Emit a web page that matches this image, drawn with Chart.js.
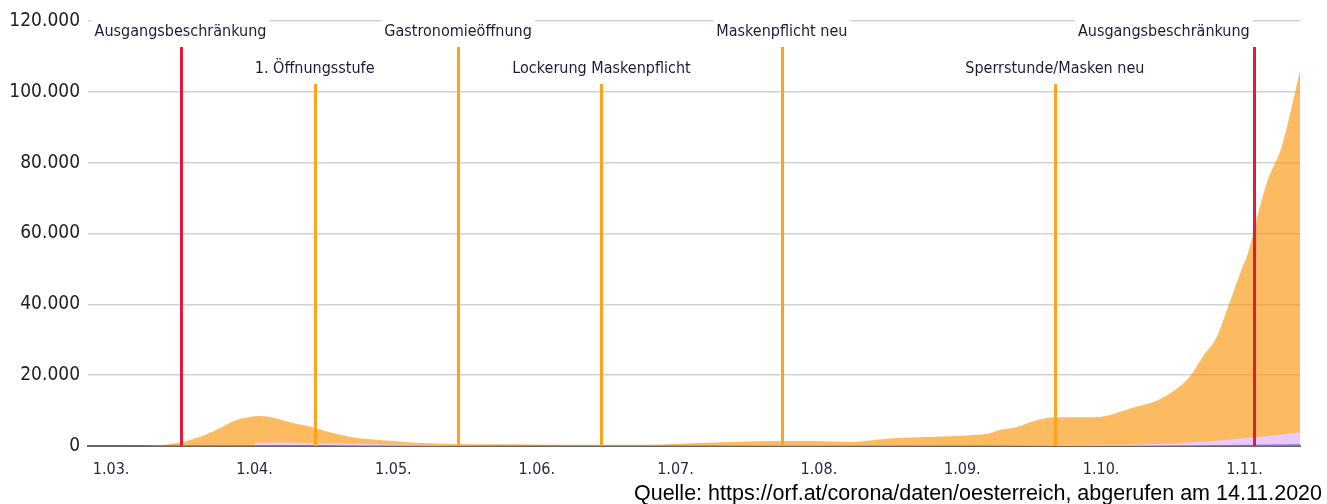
<!DOCTYPE html>
<html>
<head>
<meta charset="utf-8">
<script src="https://cdn.jsdelivr.net/npm/chart.js@4.4.0/dist/chart.umd.min.js"></script>
<style>
  html, body { margin: 0; padding: 0; background: #fff; }
  #wrap { position: relative; width: 1327px; height: 504px; }
</style>
</head>
<body>
<div id="wrap">
  <canvas id="chart" width="1327" height="504"></canvas>
</div>
<script>
// Tage ab 1. März 2020 (0 = 1.03.)
const monatsTage = [0, 31, 61, 92, 122, 153, 184, 214, 245];
const monatsLabels = ['1.03.', '1.04.', '1.05.', '1.06.', '1.07.', '1.08.', '1.09.', '1.10.', '1.11.'];
const yTicks = [0, 20000, 40000, 60000, 80000, 100000, 120000];

// aktive Fälle
const aktivTage = [-5, 0, 5, 8, 10, 12, 14, 16, 18, 20, 22, 24, 26, 28, 30, 32, 34, 36, 39, 43, 46, 49, 52, 56, 60, 66, 74, 84, 98, 106, 116, 127, 134, 145, 152, 160, 163, 167, 171, 178, 185, 190, 192, 196, 199, 202, 204, 211, 215, 217, 221, 225, 229, 233, 236, 239, 242, 244, 246, 248, 250, 253, 255, 257];
const aktivWerte = [0, 20, 60, 150, 250, 450, 750, 1300, 2100, 3000, 4100, 5400, 6800, 7700, 8200, 8450, 8250, 7700, 6600, 5500, 4300, 3300, 2500, 1900, 1450, 950, 550, 470, 350, 350, 350, 850, 1130, 1410, 1410, 1130, 1400, 1950, 2300, 2630, 3000, 3580, 4500, 5450, 6860, 7810, 8090, 8090, 8460, 9200, 10900, 12300, 15000, 19300, 25300, 30800, 41300, 48600, 55500, 66000, 75000, 84300, 94500, 106000];

// im Spital
const spitalTage = [31, 35, 40, 45, 50, 55, 60, 70, 80, 100, 130, 160, 190, 205, 215, 222, 226, 230, 235, 240, 244, 247, 252, 257];
const spitalWerte = [900, 1000, 950, 850, 700, 550, 400, 250, 150, 80, 100, 120, 150, 250, 350, 450, 600, 800, 1100, 1600, 2100, 2450, 3100, 3900];

// Intensivstation
const icuTage = [31, 40, 50, 60, 80, 100, 150, 200, 220, 235, 247, 257];
const icuWerte = [250, 260, 200, 120, 50, 20, 15, 40, 80, 200, 350, 500];

// Maßnahmen
const ereignisTage = [15, 44, 75, 106, 145, 204, 247];
const ereignisTexte = ['Ausgangsbeschränkung', '1. Öffnungsstufe', 'Gastronomieöffnung', 'Lockerung Maskenpflicht', 'Maskenpflicht neu', 'Sperrstunde/Masken neu', 'Ausgangsbeschränkung'];
const ereignisArt = ['lockdown', 'lockerung', 'lockerung', 'lockerung', 'lockerung', 'lockerung', 'lockdown'];
const ereignisReihe = [0, 1, 0, 1, 0, 1, 0];

const quelle = 'Quelle: https://orf.at/corona/daten/oesterreich, abgerufen am 14.11.2020';

const FONT = "'DejaVu Sans Condensed', 'Open Sans', sans-serif";

function punkte(tage, werte) {
  return tage.map((t, i) => ({ x: t, y: werte[i] }));
}
function formatZahl(v) {
  return v === 0 ? '0' : v.toLocaleString('de-DE');
}

const ereignisPlugin = {
  id: 'ereignisse',
  afterDatasetsDraw(chart) {
    const { ctx, chartArea, scales: { x } } = chart;
    ctx.save();
    ereignisTage.forEach((tag, i) => {
      const px = Math.round(x.getPixelForValue(tag)) + 0.5;
      const top = ereignisReihe[i] === 0 ? 47 : 84;
      ctx.strokeStyle = ereignisArt[i] === 'lockdown' ? '#e8173c' : '#ffa31a';
      ctx.lineWidth = 3;
      ctx.beginPath();
      ctx.moveTo(px, top);
      ctx.lineTo(px, chartArea.bottom);
      ctx.stroke();
    });
    ctx.restore();
  },
  afterDraw(chart) {
    const { ctx, scales: { x } } = chart;
    ctx.save();
    ctx.font = '16px ' + FONT;
    ctx.textBaseline = 'alphabetic';
    ereignisTexte.forEach((txt, i) => {
      const px = x.getPixelForValue(ereignisTage[i]);
      const w = ctx.measureText(txt).width;
      let left = px - w / 2;
      if (left + w > chart.width - 10) left = px - 4 - w;
      const base = ereignisReihe[i] === 0 ? 36 : 73;
      ctx.fillStyle = '#fff';
      ctx.fillRect(left - 3, base - 19, w + 6, 27);
      ctx.fillStyle = '#1c1c38';
      ctx.fillText(txt, left, base);
    });
    // Quelle unten rechts
    ctx.font = "21.5px 'Liberation Sans', Arial, sans-serif";
    ctx.fillStyle = '#000';
    ctx.textAlign = 'right';
    ctx.fillText(quelle, 1322, 500);
    ctx.restore();
  }
};

const chart = new Chart(document.getElementById('chart'), {
  type: 'line',
  data: {
    datasets: [
      { label: 'Intensiv', data: punkte(icuTage, icuWerte), backgroundColor: '#7d74dc', borderWidth: 0, fill: 'origin', pointRadius: 0, cubicInterpolationMode: 'monotone' },
      { label: 'Spital', data: punkte(spitalTage, spitalWerte), backgroundColor: '#ebc9fa', borderWidth: 0, fill: 'origin', pointRadius: 0, cubicInterpolationMode: 'monotone' },
      { label: 'Aktive Fälle', data: punkte(aktivTage, aktivWerte), backgroundColor: 'rgba(251,146,0,0.62)', borderWidth: 0, fill: 'origin', pointRadius: 0, cubicInterpolationMode: 'monotone' }
    ]
  },
  options: {
    responsive: false,
    animation: false,
    layout: { padding: { top: 21, right: 27, left: 0, bottom: 0 } },
    plugins: { legend: { display: false }, tooltip: { enabled: false } },
    scales: {
      x: {
        type: 'linear',
        min: -5,
        max: 257,
        afterBuildTicks(scale) { scale.ticks = monatsTage.map(v => ({ value: v })); },
        afterFit(scale) { scale.height = 58; },
        grid: { display: false, drawTicks: false },
        border: { display: true, color: '#666', width: 2 },
        ticks: {
          padding: 14,
          maxRotation: 0,
          autoSkip: false,
          color: '#2a2a40',
          font: { family: FONT, size: 16 },
          callback: (v) => monatsLabels[monatsTage.indexOf(v)] || ''
        }
      },
      y: {
        min: 0,
        max: 120000,
        afterBuildTicks(scale) { scale.ticks = yTicks.map(v => ({ value: v })); },
        afterFit(scale) { scale.width = 88; },
        grid: { color: '#d2d2d2', lineWidth: 1.5, drawTicks: false },
        border: { display: false },
        ticks: {
          padding: 8,
          color: '#222',
          font: { family: FONT, size: 19 },
          callback: (v) => formatZahl(v)
        }
      }
    }
  },
  plugins: [ereignisPlugin]
});
</script>
</body>
</html>
